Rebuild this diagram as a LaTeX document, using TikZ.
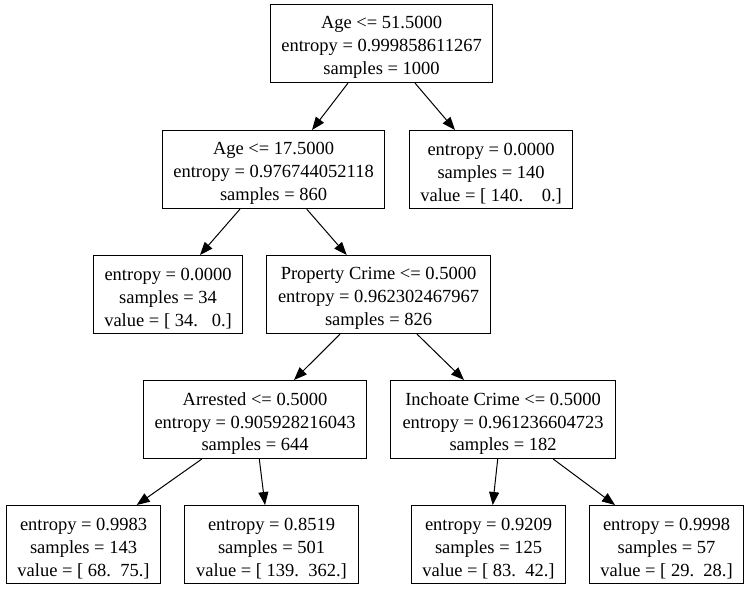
\documentclass[tikz,border=0pt]{standalone}
\usepackage{fontspec}
\setmainfont{Liberation Serif}
\usetikzlibrary{arrows.meta}
\tikzset{
  box/.style={draw, line width=1.1pt, inner sep=0pt, anchor=north west, minimum height=78pt},
  txt/.style={align=center, inner sep=0pt, font=\fontsize{18.5}{22.8}\selectfont, yshift=-4pt},
  arr/.style={line width=1pt, -{Triangle[length=13pt,width=10pt]}}
}
\begin{document}
\begin{tikzpicture}[x=1pt,y=-1pt]
\useasboundingbox (0,0) rectangle (749,589);
\node[box, minimum width=222pt, label={[txt]center:{Age <= 51.5000\\entropy = 0.999858611267\\samples = 1000}}] (root) at (270,4) {};
\node[box, minimum width=222pt, label={[txt]center:{Age <= 17.5000\\entropy = 0.976744052118\\samples = 860}}] (A) at (162,130) {};
\node[box, minimum width=163pt, label={[txt]center:{entropy = 0.0000\\samples = 140\\value = [ 140.~~~~0.]}}] (B) at (409,130) {};
\node[box, minimum width=149pt, label={[txt]center:{entropy = 0.0000\\samples = 34\\value = [ 34.~~~0.]}}] (C) at (93,255) {};
\node[box, minimum width=224pt, label={[txt]center:{Property Crime <= 0.5000\\entropy = 0.962302467967\\samples = 826}}] (D) at (266,255) {};
\node[box, minimum width=223pt, label={[txt]center:{Arrested <= 0.5000\\entropy = 0.905928216043\\samples = 644}}] (E) at (143,380) {};
\node[box, minimum width=225pt, label={[txt]center:{Inchoate Crime <= 0.5000\\entropy = 0.961236604723\\samples = 182}}] (F) at (390,380) {};
\node[box, minimum width=154pt, label={[txt]center:{entropy = 0.9983\\samples = 143\\value = [ 68.~~75.]}}] (G) at (6,505) {};
\node[box, minimum width=174pt, label={[txt]center:{entropy = 0.8519\\samples = 501\\value = [ 139.~~362.]}}] (H) at (184,505) {};
\node[box, minimum width=154pt, label={[txt]center:{entropy = 0.9209\\samples = 125\\value = [ 83.~~42.]}}] (I) at (411,505) {};
\node[box, minimum width=154pt, label={[txt]center:{entropy = 0.9998\\samples = 57\\value = [ 29.~~28.]}}] (J) at (589,505) {};
\draw[arr] ([xshift=78pt]root.south west) -- ([xshift=150pt]A.north west);
\draw[arr] ([xshift=145pt]root.south west) -- ([xshift=46pt]B.north west);
\draw[arr] ([xshift=78pt]A.south west) -- ([xshift=107pt]C.north west);
\draw[arr] ([xshift=144.7pt]A.south west) -- ([xshift=80.7pt]D.north west);
\draw[arr] ([xshift=74pt]D.south west) -- ([xshift=151pt]E.north west);
\draw[arr] ([xshift=151pt]D.south west) -- ([xshift=74pt]F.north west);
\draw[arr] ([xshift=58.7pt]E.south west) -- ([xshift=130.7pt]G.north west);
\draw[arr] ([xshift=116.3pt]E.south west) -- ([xshift=81pt]H.north west);
\draw[arr] ([xshift=107.7pt]F.south west) -- ([xshift=81.7pt]I.north west);
\draw[arr] ([xshift=163.3pt]F.south west) -- ([xshift=26pt]J.north west);
\end{tikzpicture}
\end{document}
